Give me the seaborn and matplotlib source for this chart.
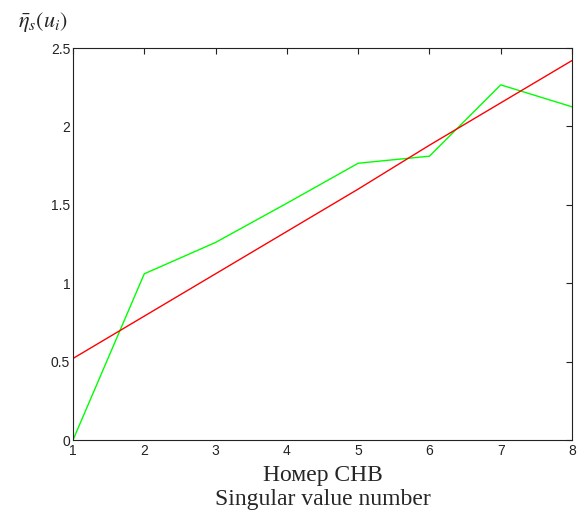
import matplotlib
matplotlib.use("Agg")
import matplotlib.pyplot as plt
import seaborn as sns
import pandas as pd

x_vals = [1, 2, 3, 4, 5, 6, 7, 8]
green_vals = [0.0, 1.06, 1.26, 1.51, 1.765, 1.81, 2.265, 2.125]
red_vals = [0.52, 0.79, 1.06, 1.33, 1.60, 1.88, 2.15, 2.42]
x_ticks = [1, 2, 3, 4, 5, 6, 7, 8]
y_ticks = [0, 0.5, 1, 1.5, 2, 2.5]
y_tick_labels = ["0", "0.5", "1", "1.5", "2", "2.5"]

sns.set_style("white")
plt.rcParams["font.family"] = ["Liberation Sans", "DejaVu Sans"]
plt.rcParams["mathtext.fontset"] = "stix"

df = pd.DataFrame({"x": x_vals, "green": green_vals, "red": red_vals})

fig = plt.figure(figsize=(5.8, 5.2), dpi=100)
ax = fig.add_axes([73/580, 80/520, 499/580, 392/520])

sns.lineplot(data=df, x="x", y="green", ax=ax, color="#00ff00", linewidth=1.0)
sns.lineplot(data=df, x="x", y="red", ax=ax, color="#ff0000", linewidth=1.0)

ax.set_xlim(1, 8)
ax.set_ylim(0, 2.5)
ax.set_xticks(x_ticks)
ax.set_xticklabels([str(t) for t in x_ticks])
ax.set_yticks(y_ticks)
ax.set_yticklabels(y_tick_labels)
ax.tick_params(direction="in", top=True, right=True, length=4, width=0.8,
               labelsize=10, colors="#222222", pad=3)
ax.tick_params(axis="y", pad=2)
for s in ax.spines.values():
    s.set_color("#222222")
    s.set_linewidth(0.8)

ax.set_ylabel("")
ax.set_xlabel("Номер СНВ\nSingular value number", family=["Liberation Serif", "DejaVu Serif"],
              fontsize=17, labelpad=5, linespacing=1.15)

fig.text(18/580, 1 - 22/520, r"$\bar{\eta}_s(u_i)$", fontsize=16, va="center", ha="left")

fig.savefig("out.png", dpi=100)
